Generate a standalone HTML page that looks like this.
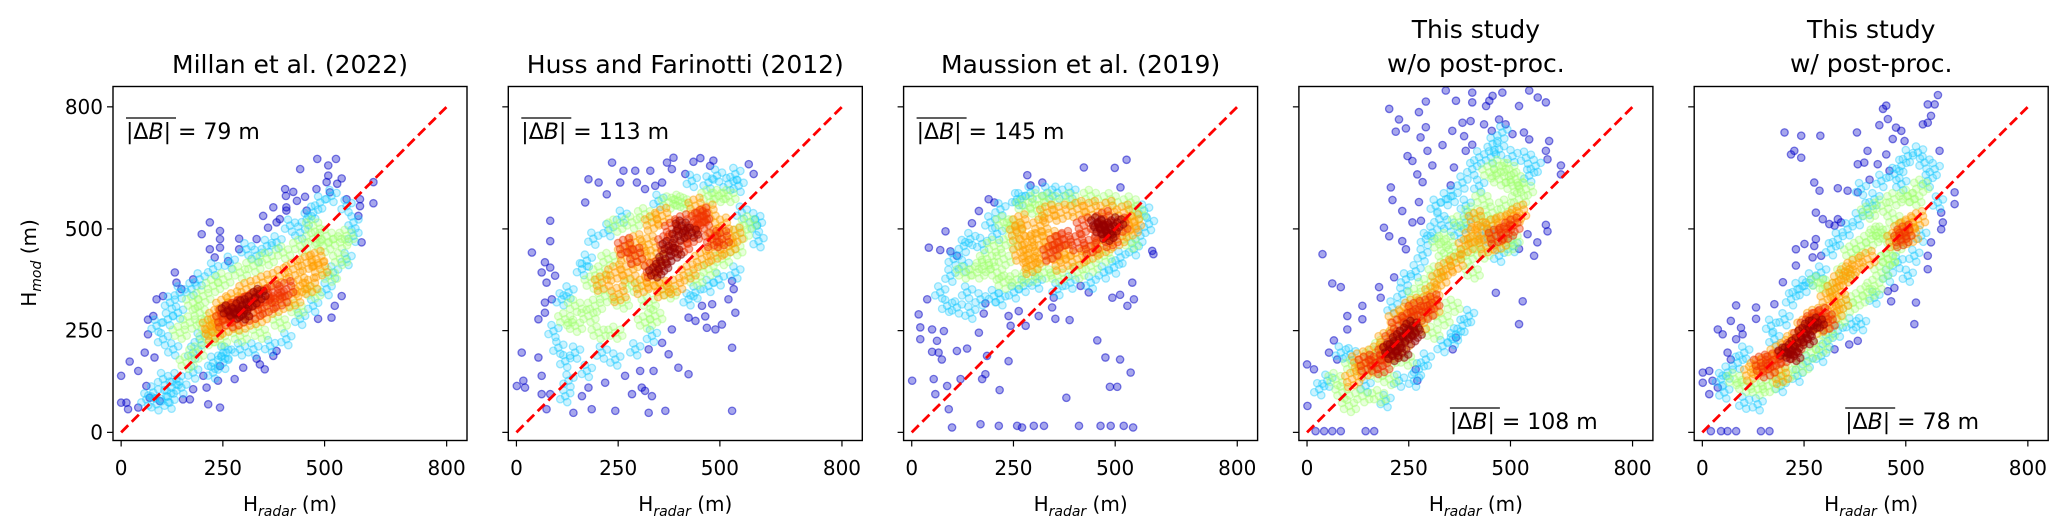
<!DOCTYPE html>
<html><head><meta charset="utf-8"><style>
html,body{margin:0;padding:0;background:#fff;}
svg{display:block;font-family:"DejaVu Sans","Liberation Sans",sans-serif;}
</style></head><body>
<svg id="fig" width="2067" height="532" viewBox="0 0 2067 532" xmlns="http://www.w3.org/2000/svg"></svg>
<script>
const titles = [["Millan et al. (2022)"],["Huss and Farinotti (2012)"],["Maussion et al. (2019)"],["This study","w/o post-proc."],["This study","w/ post-proc."]];
const scores = ["79","113","145","108","78"];
const scorePos = ["top","top","top","bottom","bottom"];
const xTicks = [0,250,500,800];
const yTicks = [0,250,500,800];
const levelColors = ["rgb(0,0,200)","rgb(20,200,255)","rgb(160,255,110)","rgb(255,160,0)","rgb(240,50,0)","rgb(150,0,0)"];

const p1 = [
[0,139,21,174,42,151,13,73,0,73,17,57,42,61,62,114,66,241,87,327,103,335,132,393,136,368,177,376,148,352,198,487,218,516,243,495,243,475,218,450,243,454,230,430,263,421,290,476,290,450,333,475,349,532,361,503,374,553,382,516,403,598,405,581,423,591,406,553,406,545,390,524,440,647,452,579,432,569,482,672,528,672,509,656,509,631,505,615,542,624,531,611,480,598,456,545,513,590,554,573,587,573,620,615,620,563,587,556,591,467,583,532,542,335,525,311,517,282,484,279,353,155,382,200,374,188,341,167,300,159,333,181,279,131,238,127,243,163,210,110,214,69,243,61,177,106,152,81,169,81,95,77,70,85,202,139,58,196,82,184,79,286,66,277],
[103,131,124,110,62,81,87,69,119,73,148,110,79,98,111,89,136,131,177,147,226,171,251,196,226,147,128,204,103,229,87,262,115,278,140,294,120,319,144,344,173,352,193,376,226,401,267,417,308,450,333,434,358,458,382,467,415,508,440,491,456,524,472,540,489,565,517,581,554,556,571,516,571,483,554,426,521,393,505,352,472,311,440,279,406,229,366,212,325,204,292,204,259,196,193,229,177,196,251,171],
[144,245,169,270,193,294,177,319,202,335,226,360,251,376,292,393,325,409,358,426,398,442,440,458,472,475,505,483,538,467,554,483,538,426,513,385,472,344,431,303,390,270,341,245,292,237,243,229,210,262,185,196,161,171,210,229,472,508,497,458],
[218,262,234,286,251,311,275,327,308,352,349,368,390,384,423,401,456,417,480,426,489,401,464,360,423,327,382,311,341,286,300,270,259,262,226,245,440,360],
[259,294,275,303,292,311,308,319,325,327,349,335,374,344,390,327,358,311,325,294,284,278,251,278,406,352],
[262,300,280,292,298,312,318,322,340,340,300,290]
];
const p2 = [
[13,196,1,114,21,110,17,127,54,184,62,139,62,94,83,94,74,57,140,48,185,57,243,53,325,48,366,53,530,53,267,139,304,151,337,151,308,110,316,102,284,94,333,89,218,122,177,110,161,89,398,159,423,143,374,192,325,204,358,220,382,253,423,282,440,274,468,257,489,253,505,265,538,294,534,352,521,327,530,372,481,315,464,285,456,311,530,208,54,278,70,294,70,319,87,327,74,368,62,393,70,418,83,405,95,385,38,442,83,470,83,520,169,565,177,622,202,614,222,585,235,663,263,643,255,614,292,643,296,614,316,598,329,643,341,606,358,614,370,663,386,675,382,647,415,635,435,665,452,674,476,655,484,668,571,659,583,635],
[431,618,472,614,493,631,521,610,546,606,538,635,591,508,595,470,587,524,259,530,226,497,189,476,173,422,161,401,111,327,128,344,91,249,103,208,120,175,144,196,173,151,120,89,128,127,210,196,243,179,292,204,333,237,423,327,440,344,472,360,497,376,538,393,554,540,349,569],
[144,311,177,286,120,278,144,262,202,245,243,245,193,311,218,335,185,368,206,393,226,426,259,319,284,360,325,319,341,286,316,270,374,344,440,376,472,401,505,426,538,450,554,491,571,516,521,581,472,581,407,565,374,565,316,536,284,516,243,508,398,569,497,581],
[210,368,243,393,267,442,292,467,308,426,275,393,251,340,308,360,333,376,358,352,390,360,423,393,456,426,489,442,521,458,538,483,505,508,472,540,440,557,333,516,358,532,325,462,349,426,489,483],
[267,458,292,434,333,401,366,467,382,500,407,516,431,483,456,516,481,475,456,532,448,524,505,475,407,458],
[374,458,390,442,398,483,366,426,341,393,406,508,431,491,358,409]
];
const p3 = [
[1,127,21,258,17,290,38,327,21,229,50,253,54,131,58,94,87,114,91,57,99,12,169,20,214,16,259,16,271,12,300,16,325,16,411,16,464,16,489,16,521,16,544,12,380,85,238,175,216,104,173,131,181,143,120,131,111,200,136,206,66,196,74,179,62,225,50,198,79,249,165,245,185,188,456,226,476,184,512,179,538,147,487,112,505,112,238,286,243,262,280,262,312,286,345,307,353,279,388,276,177,292,263,298,530,311,546,327,542,368,493,331,512,338,591,446,594,438,423,651,499,650,528,670,513,602,284,632,292,607,321,614,165,544,189,573,203,565,148,514,83,494,42,454,70,448,95,445,111,434,181,317,349,331,415,360,435,344],
[103,426,128,458,144,475,128,409,95,385,70,344,87,311,111,307,144,294,169,327,202,335,218,327,251,344,275,360,308,368,358,352,390,368,440,368,472,393,497,405,513,430,546,450,562,483,583,512,571,545,193,516,218,548,259,573,292,589,333,589,358,589,390,589,267,573,210,488,173,463,136,344],
[128,393,161,393,185,426,177,409,210,393,226,426,243,467,226,368,259,376,292,385,325,393,358,385,407,393,440,409,472,434,538,467,554,540,538,565,489,573,440,581,390,573,341,573,308,573,275,557,251,508,308,545,226,516,202,458],
[259,491,284,467,267,442,292,426,316,508,333,540,366,540,407,549,440,549,481,549,521,540,546,516,538,499,505,475,472,458,440,442,407,426,366,417,325,434,292,409,341,475,374,442,267,516,308,475],
[374,475,407,467,423,508,440,458,464,491,489,475,513,508,472,524,358,467,341,442],
[456,516,472,508,489,499,481,483,505,516,464,499]
];
const p4 = [
[1,65,0,167,17,155,21,3,42,3,62,3,83,3,144,3,165,3,38,438,62,366,83,357,66,226,54,196,74,179,99,286,99,253,136,311,136,278,177,357,181,331,214,381,234,470,243,450,189,503,202,482,210,571,206,602,234,544,259,516,280,520,275,566,271,634,284,615,259,667,247,679,296,692,308,656,333,706,361,651,353,607,390,692,406,707,386,728,357,741,382,761,402,765,435,757,454,741,472,769,488,757,505,733,533,737,546,720,595,716,587,692,591,671,624,656,624,634,587,510,591,494,566,467,542,487,521,451,558,434,464,343,530,322,521,266,366,233,358,204,267,155,271,127,202,795,226,769,243,747,218,739,275,787,292,813,292,750,341,840,366,815,406,811,440,802,456,827,480,835,521,802,546,840,567,823,587,811,406,835,448,815,279,725],
[30,106,50,127,83,196,107,192,144,114,193,77,226,127,263,127,275,155,292,179,333,212,366,241,382,262,398,286,358,229,210,307,234,340,243,376,267,396,284,435,292,475,308,491,325,524,316,557,341,573,358,581,382,614,406,647,423,676,456,709,472,696,505,679,538,675,562,655,546,631,480,737,452,676,349,508,390,516,374,491,390,557,440,491,423,606,472,434,505,458,456,475],
[103,65,136,89,177,89,87,98,70,131,111,163,169,147,202,131,161,188,185,212,218,237,251,262,275,286,267,338,292,362,316,393,341,426,366,442,407,467,440,516,456,540,489,557,521,573,538,598,505,606,472,622,448,639,472,655,497,647,513,622,431,573,407,540,374,516,341,475,325,462,390,434,407,393,431,442,489,458,505,475,358,311,333,278,308,245,243,179,202,179],
[128,179,144,155,111,131,169,196,193,229,218,278,243,294,259,311,292,319,308,344,325,376,341,401,366,417,390,458,407,483,431,491,456,508,481,516,505,524,521,540,472,467,440,458,415,524,275,262,308,304,234,220,210,196],
[144,171,169,171,193,196,210,229,226,262,251,278,267,303,292,294,489,491,505,508,464,483,185,163,308,319],
[202,204,218,212,226,229,243,245,259,262,234,196,210,188,267,245,251,229]
];
const p5 = [
[1,147,17,151,1,122,25,127,17,94,38,110,21,3,46,3,62,3,83,3,144,3,165,3,38,253,50,241,70,274,95,257,99,241,83,229,62,196,70,179,83,312,132,307,132,279,177,315,198,369,230,410,230,450,251,463,271,430,292,434,275,458,279,475,296,524,312,512,325,508,333,524,341,516,279,540,275,614,288,594,333,600,357,594,382,590,382,659,398,663,406,692,431,659,452,683,460,643,411,621,202,737,243,729,290,729,218,683,226,692,243,675,380,737,435,755,444,795,452,803,456,770,476,749,489,741,468,721,497,716,542,757,554,761,562,778,554,806,571,806,579,829,583,692,620,590,620,561,587,540,591,516,587,499,562,467,554,434,554,401,525,319,521,266,456,347,464,322,472,355,361,216,382,225,325,204],
[46,131,62,147,103,196,87,171,54,98,103,73,136,69,177,229,169,262,202,278,218,327,234,352,251,360,267,376,292,393,316,450,333,475,357,499,382,524,406,549,423,573,390,598,440,618,472,635,489,655,505,679,530,688,546,663,571,647,554,618,579,565,538,483,521,434,505,385,480,418,456,385,423,331,390,266,366,266,333,250,308,225,292,188,259,175,234,139,193,114,489,610],
[79,131,103,114,136,106,161,114,185,131,210,147,243,163,267,196,292,212,308,245,333,278,358,311,382,327,406,344,423,360,440,393,456,426,472,458,489,475,440,491,415,475,390,458,366,442,349,393,407,540,440,557,472,573,505,581,521,573,538,606,472,524,431,491,284,368,308,360,456,426],
[120,147,136,163,161,171,185,196,210,212,226,229,251,262,275,286,308,327,325,352,341,376,358,393,374,409,406,426,472,475,505,508,530,524,513,483,489,499,193,139,292,262,325,294,341,319],
[144,171,161,155,177,179,202,188,226,212,243,237,259,262,275,278,292,286,308,270,497,491,489,475],
[202,196,218,204,234,220,251,245,267,262,284,270,226,188,259,229]
];
const panelData = [p1,p2,p3,p4,p5];

const NS = "http://www.w3.org/2000/svg";
const svg = document.getElementById('fig');
const panelLefts = [113,508.3,903.6,1298.9,1694.2];
const top0 = 86.5, size = 354, dmin = -20, dmax = 850;
// marker rendering style: each data point drawn as a small overlapping glyph group to mimic dense overplotting
const glyphOffsets = [
  [[0,0]],
  [[0,0],[5,-3],[-5,3],[2,6],[-2,-6]],
  [[0,0],[5,-3],[-5,3],[2,6],[-2,-6],[7,3],[-7,-3]],
  [[0,0],[5,-3],[-5,3],[2,6],[-2,-6],[7,3],[-7,-3],[4,-8],[-4,8]],
  [[0,0],[5,-3],[-5,3],[2,6],[-2,-6],[7,3],[-7,-3],[4,-8],[-4,8]],
  [[0,0],[4,-3],[-4,3],[2,5],[-2,-5],[6,2],[-6,-2]]
];
const fillOp = [0.35,0.22,0.25,0.32,0.38,0.42];
const strokeOp = [0.5,0.4,0.4,0.45,0.45,0.5];
function mk(tag, attrs, parent){const e=document.createElementNS(NS,tag);for(const k in attrs)e.setAttribute(k,attrs[k]);(parent||svg).appendChild(e);return e;}

const defs = mk('defs',{});
panelData.forEach((pd,i)=>{
  const L = panelLefts[i];
  const sx = v => L + (v-dmin)/(dmax-dmin)*size;
  const sy = v => top0 + size - (v-dmin)/(dmax-dmin)*size;
  const cp = mk('clipPath',{id:'clip'+i},defs);
  mk('rect',{x:L,y:top0,width:size,height:size},cp);
  const g = mk('g',{'clip-path':'url(#clip'+i+')'});
  
  
  pd.forEach((arr,lvl)=>{
    for(let k=0;k<arr.length;k+=2){
      const px = sx(arr[k]), py = sy(arr[k+1]);
      const pg = mk('g',{},g);
      
      
      glyphOffsets[lvl].forEach(o=>{
        mk('circle',{cx:px+o[0],cy:py+o[1],r:3.7,fill:levelColors[lvl],'fill-opacity':fillOp[lvl],stroke:levelColors[lvl],'stroke-opacity':strokeOp[lvl],'stroke-width':1.3},pg);
      });
    }
  });
  const ln = mk('line',{x1:sx(0),y1:sy(0),x2:sx(800),y2:sy(800),stroke:'#ff0000','stroke-width':2.8,'stroke-dasharray':'10 5'},g);
  
  
  const fr = mk('rect',{x:L,y:top0,width:size,height:size,fill:'none',stroke:'#000','stroke-width':1.4});
  
  
  xTicks.forEach(t=>{
    mk('line',{x1:sx(t),y1:top0+size,x2:sx(t),y2:top0+size+6,stroke:'#000','stroke-width':1.2});
    const tx = mk('text',{x:sx(t),y:475,'font-size':20,'text-anchor':'middle',fill:'#000'});
    tx.textContent = t;
    
    
  });
  yTicks.forEach(t=>{
    mk('line',{x1:L,y1:sy(t),x2:L-6,y2:sy(t),stroke:'#000','stroke-width':1.2});
    if(i===0){
      const ty = mk('text',{x:L-10,y:sy(t)+7,'font-size':20,'text-anchor':'end',fill:'#000'});
      ty.textContent = t;
      
      
    }
  });
  const xl = mk('text',{x:L+size/2,y:511,'font-size':20,'text-anchor':'middle',fill:'#000'});
  xl.innerHTML = 'H<tspan font-size="14" dy="5" font-style="italic">radar</tspan><tspan dy="-5"> (m)</tspan>';
  
  
  const tl = titles[i];
  tl.forEach((s,j)=>{
    const y = tl.length===1 ? 73 : (j===0 ? 38 : 72);
    const tt = mk('text',{x:L+size/2,y:y,'font-size':25,'text-anchor':'middle',fill:'#000'});
    tt.textContent = s;
    
    
  });
  const ax = scorePos[i]==='top' ? L+13 : L+151;
  const ay = scorePos[i]==='top' ? 139 : 429;
  const st = mk('text',{x:ax,y:ay,'font-size':22,fill:'#000'});
  st.innerHTML = '|Δ<tspan font-style="italic">B</tspan>| = '+scores[i]+' m';
  
  
  mk('line',{x1:ax,y1:ay-21,x2:ax+50,y2:ay-21,stroke:'#000','stroke-width':1.3});
});
const yl = mk('text',{x:0,y:0,'font-size':20,'text-anchor':'middle',fill:'#000',transform:'translate(36,263) rotate(-90)'});
yl.innerHTML = 'H<tspan font-size="14" dy="5" font-style="italic">mod</tspan><tspan dy="-5"> (m)</tspan>';


</script>
</body></html>
